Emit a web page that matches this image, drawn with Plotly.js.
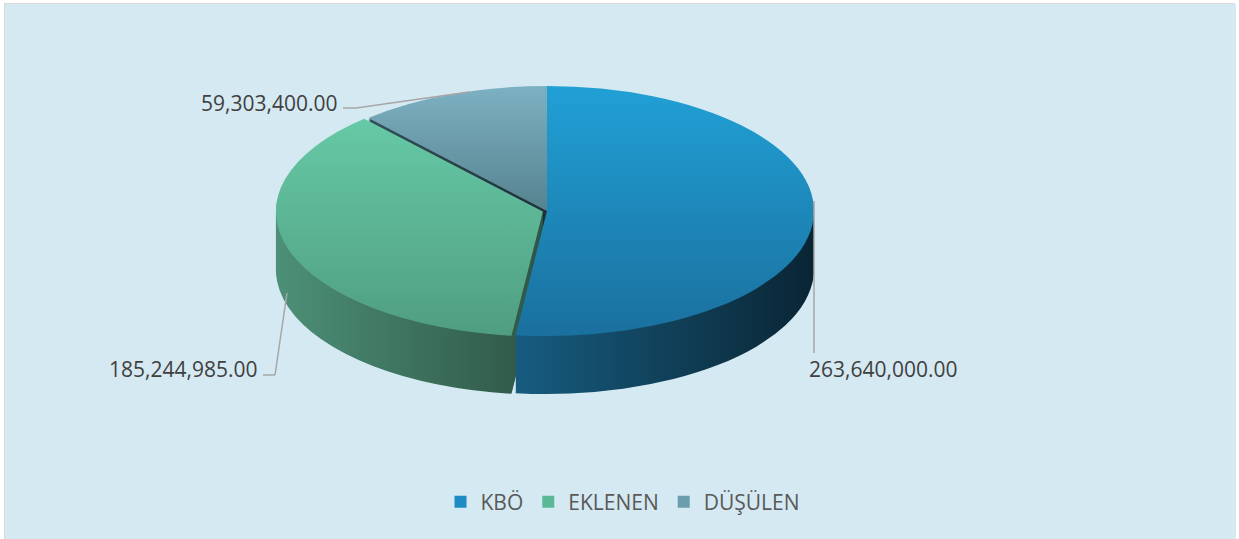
<!DOCTYPE html>
<html>
<head>
<meta charset="utf-8">
<script src="https://cdn.plot.ly/plotly-3.0.1.min.js"></script>
<style>
  html, body { margin: 0; padding: 0; background: #ffffff; }
  #chart { position: absolute; left: 4px; top: 3px; width: 1231px; height: 536px;
           border: 1px solid #d9d9d9; box-sizing: border-box; }
</style>
</head>
<body>
<div id="chart"></div>
<script>
// ---- data ----
const labels = ['KBÖ', 'EKLENEN', 'DÜŞÜLEN'];
const values = [263640000.00, 185244985.00, 59303400.00];

// ---- styles ----
const topColors = ['#1d8cc2', '#5bb896', '#6c9dad'];
const sideColors = ['#114563', '#3f7a63', '#2c434c'];
const topGrad = [['#21a0d6', '#1a709e'], ['#66c9a6', '#509e82'], ['#7db1c2', '#56828f']];
const sideGrad = [['#175c80', '#0a2534'], ['#4d9077', '#2e5546'], ['#34505a', '#1e3038']];
const pulls = [0, 0.016, 0];

const W = 1231, H = 535, OX = 4, OY = 3;
const CX = 546, CY = 210, RX = 267, RY = 125, DEPTH = 58, NL = 30;

function fmt(v) {
  return v.toLocaleString('en-US', { minimumFractionDigits: 2, maximumFractionDigits: 2 });
}
function px(x) { return (x - OX) / W; }
function py(y) { return 1 - (y - OY) / H; }

const traces = [];
for (let k = 0; k <= NL; k++) {
  const isTop = k === NL;
  traces.push({
    type: 'pie',
    labels: labels,
    values: values,
    sort: false,
    direction: 'clockwise',
    rotation: 0,
    pull: pulls,
    textinfo: 'none',
    hoverinfo: 'skip',
    showlegend: isTop,
    domain: { x: [0, 1], y: [0, 1] },
    marker: { colors: isTop ? topColors : sideColors, line: { width: 0 } }
  });
}

const labelFont = { family: 'Open Sans, sans-serif', size: 21, color: '#404040' };
const annotations = [
  { text: fmt(values[2]), x: px(338), y: py(102), xanchor: 'right', yanchor: 'middle' },
  { text: fmt(values[1]), x: px(258), y: py(368), xanchor: 'right', yanchor: 'middle' },
  { text: fmt(values[0]), x: px(806), y: py(368), xanchor: 'left', yanchor: 'middle' }
].map(a => Object.assign({ xref: 'paper', yref: 'paper', showarrow: false, font: labelFont }, a));

function seg(x0, y0, x1, y1) {
  return { type: 'line', xref: 'paper', yref: 'paper', x0: px(x0), y0: py(y0), x1: px(x1), y1: py(y1),
           line: { color: '#a6a6a6', width: 1.5 } };
}
const shapes = [
  seg(342, 107, 355, 107), seg(355, 107, 468, 91),
  seg(262, 374, 274, 374), seg(274, 374, 286, 292),
  seg(813, 200, 813, 352)
];

const layout = {
  width: W, height: H,
  margin: { l: 0, r: 0, t: 0, b: 0 },
  paper_bgcolor: '#d5e9f2',
  plot_bgcolor: '#d5e9f2',
  showlegend: true,
  legend: {
    orientation: 'h', x: px(622), xanchor: 'center', y: py(501), yanchor: 'middle',
    font: { family: 'Open Sans, sans-serif', size: 21, color: '#595959' },
    bgcolor: 'rgba(0,0,0,0)', traceorder: 'normal', itemwidth: 30
  },
  annotations: annotations,
  shapes: shapes
};

const gd = document.getElementById('chart');
Plotly.newPlot(gd, traces, layout, { staticPlot: true, displayModeBar: false }).then(function () {
  const svgNS = 'http://www.w3.org/2000/svg';
  const pieLayer = gd.querySelector('.pielayer');
  const svg = pieLayer.ownerSVGElement;
  const defs = document.createElementNS(svgNS, 'defs');
  svg.insertBefore(defs, svg.firstChild);
  function grad(id, c0, c1, vertical) {
    const g = document.createElementNS(svgNS, 'linearGradient');
    g.setAttribute('id', id);
    g.setAttribute('x1', '0'); g.setAttribute('y1', '0');
    g.setAttribute('x2', vertical ? '0' : '1'); g.setAttribute('y2', vertical ? '1' : '0');
    [[0, c0], [1, c1]].forEach(function (s) {
      const st = document.createElementNS(svgNS, 'stop');
      st.setAttribute('offset', s[0]);
      st.setAttribute('stop-color', s[1]);
      g.appendChild(st);
    });
    defs.appendChild(g);
  }
  for (let i = 0; i < labels.length; i++) {
    grad('tg' + i, topGrad[i][0], topGrad[i][1], true);
    grad('sg' + i, sideGrad[i][0], sideGrad[i][1], false);
  }
  const groups = pieLayer.querySelectorAll('.trace');
  groups.forEach(function (g, k) {
    const cd0 = gd.calcdata[k][0];
    const sx = RX / cd0.r, sy = RY / cd0.r;
    const tx = (CX - OX) - cd0.cx * sx;
    const off = k < NL ? DEPTH * (NL - k) / NL : 0;
    const ty = (CY - OY) + off - cd0.cy * sy;
    g.setAttribute('transform', 'matrix(' + sx + ',0,0,' + sy + ',' + tx + ',' + ty + ')');
    const isTop = k === NL;
    g.querySelectorAll('g.slice').forEach(function (s, i) {
      const p = s.querySelector('path.surface');
      if (p) p.style.fill = 'url(#' + (isTop ? 'tg' : 'sg') + i + ')';
    });
  });
});
</script>
</body>
</html>
